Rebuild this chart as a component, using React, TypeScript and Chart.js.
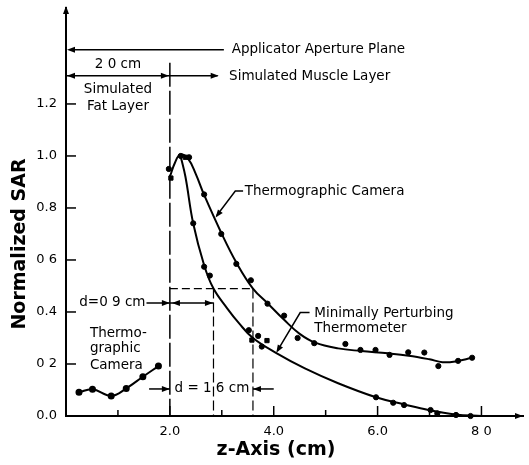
import React, { useEffect, useRef } from "react";
import { Chart, registerables } from "chart.js";
Chart.register(...registerables);

// Axis ticks
const yTickValues = [0, 0.2, 0.4, 0.6, 0.8, 1.0, 1.2];
const yTickLabels = ["0.0", "0 2", "0.4", "0 6", "0.8", "1.0", "1.2"];
const xTickValues = [2, 4, 6, 8];
const xTickLabels = ["2.0", "4.0", "6.0", "8 0"];
const xMinorTicks = [1, 3, 5, 7];

// Thermographic camera, fat layer
const fatCamX = [0.25, 0.51, 0.87, 1.16, 1.48, 1.78];
const fatCamY = [0.091, 0.103, 0.077, 0.106, 0.151, 0.192];

// Thermographic camera, muscle layer: fitted curve
const camCurveX = [2.0, 2.1, 2.2, 2.35, 2.5, 2.66, 3.0, 3.28, 3.6, 3.9, 4.2, 4.5, 4.8, 5.24, 5.68, 6.2, 6.6, 7.0, 7.25, 7.5, 7.82];
const camCurveY = [0.92, 0.975, 1.005, 0.99, 0.93, 0.85, 0.7, 0.59, 0.49, 0.43, 0.37, 0.316, 0.282, 0.26, 0.25, 0.241, 0.232, 0.218, 0.207, 0.21, 0.224];
// measured points
const camPtsX = [1.98, 2.21, 2.37, 2.66, 2.99, 3.28, 3.56, 3.88, 4.2, 4.46, 4.78, 5.38, 5.67, 5.96, 6.23, 6.59, 6.9, 7.17, 7.55, 7.82];
const camPtsY = [0.95, 1.0, 0.995, 0.852, 0.7, 0.585, 0.522, 0.432, 0.386, 0.3, 0.28, 0.277, 0.254, 0.254, 0.235, 0.245, 0.244, 0.192, 0.212, 0.224];

// Minimally perturbing thermometer: fitted curve
const thCurveX = [2.2, 2.3, 2.45, 2.66, 2.84, 3.1, 3.33, 3.6, 4.06, 4.6, 5.24, 5.97, 6.5, 7.0, 7.5, 8.0];
const thCurveY = [1.005, 0.92, 0.74, 0.58, 0.49, 0.415, 0.357, 0.3, 0.241, 0.183, 0.126, 0.072, 0.045, 0.022, 0.006, 0.0];
// measured points
const thPtsX = [2.45, 2.66, 2.77, 3.52, 3.7, 3.77, 5.97, 6.3, 6.51, 7.02, 7.15, 7.51, 7.79];
const thPtsY = [0.741, 0.574, 0.54, 0.33, 0.308, 0.267, 0.072, 0.051, 0.042, 0.023, 0.01, 0.004, 0.0];
// square markers
const sqX = [2.02, 2.3, 3.58, 3.87];
const sqY = [0.915, 0.995, 0.292, 0.29];

const FONT = '"DejaVu Sans", sans-serif';

const pts = (xs: number[], ys: number[]) => xs.map((v, i) => ({ x: v, y: ys[i] }));

function arrowHead(ctx: CanvasRenderingContext2D, fx: number, fy: number, tx: number, ty: number) {
  const a = Math.atan2(ty - fy, tx - fx);
  const L = 8, W = 3;
  ctx.beginPath();
  ctx.moveTo(tx, ty);
  ctx.lineTo(tx - L * Math.cos(a) + W * Math.sin(a), ty - L * Math.sin(a) - W * Math.cos(a));
  ctx.lineTo(tx - L * Math.cos(a) - W * Math.sin(a), ty - L * Math.sin(a) + W * Math.cos(a));
  ctx.closePath();
  ctx.fill();
}
function line(ctx: CanvasRenderingContext2D, p: number[][], dash: number[] = [], w = 1.5) {
  ctx.save();
  ctx.setLineDash(dash);
  ctx.lineWidth = w;
  ctx.beginPath();
  ctx.moveTo(p[0][0], p[0][1]);
  for (let i = 1; i < p.length; i++) ctx.lineTo(p[i][0], p[i][1]);
  ctx.stroke();
  ctx.restore();
}

const annotPlugin = {
  id: "annot",
  afterDatasetsDraw(chart: any) {
    const { ctx, scales } = chart;
    const X = (v: number) => scales.x.getPixelForValue(v);
    const Y = (v: number) => scales.y.getPixelForValue(v);
    const ca = chart.chartArea;
    ctx.save();
    ctx.strokeStyle = "#000";
    ctx.fillStyle = "#000";

    // axis arrows
    arrowHead(ctx, ca.left, ca.top + 20, ca.left, ca.top - 2);
    arrowHead(ctx, ca.right - 20, ca.bottom, ca.right, ca.bottom);

    // tick marks
    yTickValues.forEach((v) => {
      if (v === 0) return;
      line(ctx, [[ca.left, Y(v)], [ca.left + 10, Y(v)]]);
    });
    xTickValues.forEach((v) => line(ctx, [[X(v), ca.bottom], [X(v), ca.bottom - 10]]));
    xMinorTicks.forEach((v) => line(ctx, [[X(v), ca.bottom], [X(v), ca.bottom - 6]]));

    // applicator aperture plane
    line(ctx, [[X(3.04), Y(1.408)], [X(0) + 4, Y(1.408)]]);
    arrowHead(ctx, X(1), Y(1.408), X(0) + 1, Y(1.408));
    // 2.0 cm double arrow + muscle layer arrow
    line(ctx, [[X(0), Y(1.308)], [X(2.92), Y(1.308)]]);
    arrowHead(ctx, X(1), Y(1.308), X(0) + 1, Y(1.308));
    arrowHead(ctx, X(1), Y(1.308), X(2.0) - 1, Y(1.308));
    arrowHead(ctx, X(2.5), Y(1.308), X(2.94), Y(1.308));

    // fat/muscle boundary dashed line
    line(ctx, [[X(2.0), Y(1.358)], [X(2.0), Y(0)]], [24, 4], 1.5);
    // half-power dashed lines
    line(ctx, [[X(2.0), Y(0.49)], [X(3.6), Y(0.49)]], [8, 4], 1.2);
    line(ctx, [[X(2.84), Y(0.49)], [X(2.84), Y(0)]], [10, 4], 1.2);
    line(ctx, [[X(3.6), Y(0.49)], [X(3.6), Y(0)]], [10, 4], 1.2);

    // d = 0.9 cm
    line(ctx, [[X(1.55), Y(0.435)], [X(2.84), Y(0.435)]]);
    arrowHead(ctx, X(1.6), Y(0.435), X(2.0), Y(0.435));
    arrowHead(ctx, X(2.5), Y(0.435), X(2.04), Y(0.435));
    arrowHead(ctx, X(2.3), Y(0.435), X(2.83), Y(0.435));
    // d = 1.6 cm
    line(ctx, [[X(1.6), Y(0.104)], [X(2.0), Y(0.104)]]);
    arrowHead(ctx, X(1.6), Y(0.104), X(2.0), Y(0.104));
    line(ctx, [[X(4.0), Y(0.104)], [X(3.6), Y(0.104)]]);
    arrowHead(ctx, X(4.0), Y(0.104), X(3.6), Y(0.104));

    // leaders to curves
    line(ctx, [[X(3.41), Y(0.865)], [X(3.26), Y(0.865)], [X(2.9), Y(0.77)]]);
    arrowHead(ctx, X(3.26), Y(0.865), X(2.88), Y(0.763));
    line(ctx, [[X(4.69), Y(0.398)], [X(4.51), Y(0.398)], [X(4.07), Y(0.25)]]);
    arrowHead(ctx, X(4.51), Y(0.398), X(4.05), Y(0.243));

    // texts
    ctx.textBaseline = "middle";
    ctx.font = `13.5px ${FONT}`;
    ctx.textAlign = "left";
    ctx.fillText("Applicator Aperture Plane", X(3.19), Y(1.408));
    ctx.fillText("Simulated Muscle Layer", X(3.14), Y(1.304));
    ctx.fillText("Thermographic Camera", X(3.44), Y(0.865));
    ctx.fillText("Minimally Perturbing", X(4.78), Y(0.396));
    ctx.fillText("Thermometer", X(4.78), Y(0.335));
    ctx.fillText("Thermo-", X(0.46), Y(0.319));
    ctx.fillText("graphic", X(0.46), Y(0.258));
    ctx.fillText("Camera", X(0.46), Y(0.196));
    ctx.textAlign = "center";
    ctx.fillText("2 0 cm", X(1.0), Y(1.35));
    ctx.fillText("Simulated", X(1.0), Y(1.254));
    ctx.fillText("Fat Layer", X(1.0), Y(1.192));
    ctx.fillText("d = 1 6 cm", X(2.81), Y(0.104));
    ctx.textAlign = "right";
    ctx.fillText("d=0 9 cm", X(1.55) - 1, Y(0.435));

    // axis titles
    ctx.font = `bold 19px ${FONT}`;
    ctx.textAlign = "center";
    ctx.fillText("z-Axis (cm)", 276, 450);
    ctx.save();
    ctx.translate(20, 244);
    ctx.rotate(-Math.PI / 2);
    ctx.fillText("Normalized SAR", 0, 0);
    ctx.restore();
    ctx.restore();
  },
};

export default function App() {
  const ref = useRef<HTMLCanvasElement>(null);
  useEffect(() => {
    if (!ref.current) return;
    const black = "#000";
    const chart = new Chart(ref.current, {
      type: "scatter",
      data: {
        datasets: [
          {
            data: pts(fatCamX, fatCamY),
            showLine: true,
            tension: 0.4,
            borderColor: black,
            borderWidth: 2,
            pointRadius: 2.5,
            pointBackgroundColor: black,
            pointBorderColor: black,
          },
          {
            data: pts(camCurveX, camCurveY),
            showLine: true,
            tension: 0.4,
            borderColor: black,
            borderWidth: 2,
            pointRadius: 0,
          },
          {
            data: pts(thCurveX, thCurveY),
            showLine: true,
            tension: 0.4,
            borderColor: black,
            borderWidth: 2,
            pointRadius: 0,
          },
          {
            data: pts(camPtsX, camPtsY),
            pointRadius: 2.6,
            pointBackgroundColor: black,
            pointBorderColor: black,
          },
          {
            data: pts(thPtsX, thPtsY),
            pointRadius: 2.6,
            pointBackgroundColor: black,
            pointBorderColor: black,
          },
          {
            data: pts(sqX, sqY),
            pointStyle: "rect",
            pointRadius: 3,
            pointBackgroundColor: black,
            pointBorderColor: black,
          },
        ] as any,
      },
      options: {
        animation: false,
        responsive: false,
        clip: false as any,
        layout: { padding: { left: 0, top: 8, right: 2, bottom: 0 } },
        plugins: { legend: { display: false }, tooltip: { enabled: false } },
        scales: {
          x: {
            type: "linear",
            min: 0,
            max: 8.8,
            grid: { display: false, drawTicks: false },
            border: { display: true, color: black, width: 2 },
            afterBuildTicks: (s: any) => {
              s.ticks = xTickValues.map((v) => ({ value: v }));
            },
            afterFit: (s: any) => {
              s.height = 49;
              s.paddingLeft = 0;
              s.paddingRight = 0;
              s.paddingTop = 0;
              s.paddingBottom = 0;
            },
            ticks: {
              autoSkip: false,
              maxRotation: 0,
              padding: 8,
              color: black,
              font: { family: FONT, size: 13 },
              callback: (_v: any, i: number) => xTickLabels[i],
            },
          },
          y: {
            type: "linear",
            min: 0,
            max: 1.569,
            grid: { display: false, drawTicks: false },
            border: { display: true, color: black, width: 2 },
            afterBuildTicks: (s: any) => {
              s.ticks = yTickValues.map((v) => ({ value: v }));
            },
            afterFit: (s: any) => {
              s.width = 66;
              s.paddingLeft = 0;
              s.paddingRight = 0;
              s.paddingTop = 0;
              s.paddingBottom = 0;
            },
            ticks: {
              autoSkip: false,
              padding: 9,
              color: black,
              font: { family: FONT, size: 13 },
              callback: (_v: any, i: number) => yTickLabels[i],
            },
          },
        },
      },
      plugins: [annotPlugin],
    });
    return () => chart.destroy();
  }, []);
  return (
    <div style={{ position: "absolute", left: 0, top: 0, width: 529, height: 465, background: "#fff" }}>
      <canvas ref={ref} width={529} height={465} style={{ display: "block" }} />
    </div>
  );
}
